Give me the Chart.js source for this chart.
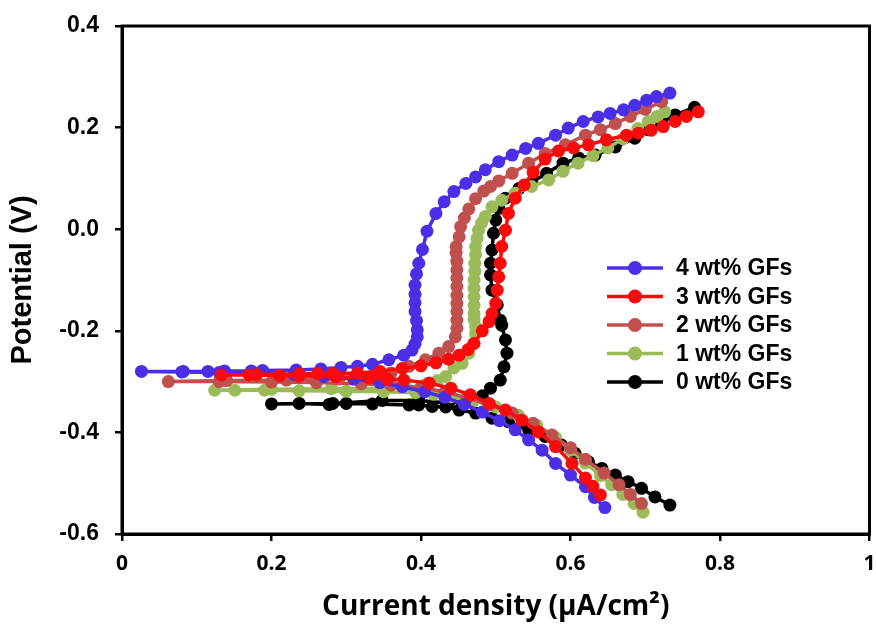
<!DOCTYPE html>
<html>
<head>
<meta charset="utf-8">
<script src="https://cdn.jsdelivr.net/npm/chart.js@4.4.0/dist/chart.umd.min.js"></script>
<style>
  html, body { margin: 0; padding: 0; background: #fff; }
  #wrap { width: 876px; height: 629px; }
</style>
</head>
<body>
<div id="wrap"><canvas id="grafica" width="876" height="629"></canvas></div>
<script>
// Nombres de las series (orden de la leyenda)
var seriesNames = ['4 wt% GFs', '3 wt% GFs', '2 wt% GFs', '1 wt% GFs', '0 wt% GFs'];
var seriesColors = ['#4B2FE6', '#FA0A0A', '#C0504D', '#9BBB59', '#000000'];

// Ticks de los ejes
var xTicks = [0, 0.2, 0.4, 0.6, 0.8, 1];
var yTicks = [-0.6, -0.4, -0.2, 0.0, 0.2, 0.4];

// 4 wt% GFs
var gf4X = [0.646, 0.632, 0.620, 0.600, 0.580, 0.562, 0.544, 0.526, 0.505, 0.482, 0.458, 0.432, 0.405, 0.375, 0.345, 0.310, 0.270, 0.230, 0.180, 0.130, 0.080, 0.026,
  0.082, 0.115, 0.137, 0.173, 0.188, 0.233, 0.266, 0.293, 0.315, 0.335, 0.357, 0.377, 0.388, 0.392, 0.395, 0.395, 0.394, 0.392, 0.392, 0.392, 0.392, 0.394, 0.397, 0.402, 0.408,
  0.420, 0.431, 0.444, 0.460, 0.473, 0.486, 0.504, 0.522, 0.540, 0.557, 0.580, 0.597, 0.617, 0.637, 0.653, 0.671, 0.686, 0.702, 0.715, 0.733];
var gf4Y = [-0.548, -0.528, -0.507, -0.484, -0.461, -0.435, -0.415, -0.395, -0.377, -0.360, -0.345, -0.331, -0.320, -0.310, -0.302, -0.295, -0.290, -0.286, -0.284, -0.282, -0.281, -0.280,
  -0.280, -0.280, -0.279, -0.279, -0.278, -0.277, -0.275, -0.272, -0.270, -0.266, -0.257, -0.248, -0.238, -0.226, -0.212, -0.198, -0.180, -0.162, -0.145, -0.128, -0.110, -0.088, -0.067, -0.040, -0.004,
  0.031, 0.054, 0.074, 0.090, 0.103, 0.117, 0.133, 0.146, 0.159, 0.169, 0.185, 0.199, 0.212, 0.221, 0.228, 0.235, 0.244, 0.254, 0.261, 0.268];

// 3 wt% GFs
var gf3X = [0.640, 0.630, 0.620, 0.602, 0.580, 0.557, 0.535, 0.513, 0.491, 0.466, 0.440, 0.411, 0.377, 0.355, 0.331, 0.286, 0.237, 0.211, 0.170, 0.133,
  0.180, 0.237, 0.262, 0.282, 0.315, 0.345, 0.375, 0.400, 0.420, 0.437, 0.451, 0.463, 0.471, 0.482, 0.491, 0.495, 0.500, 0.502, 0.504, 0.506, 0.508, 0.513,
  0.517, 0.526, 0.538, 0.550, 0.566, 0.584, 0.604, 0.624, 0.648, 0.675, 0.691, 0.708, 0.724, 0.740, 0.755, 0.771];
var gf3Y = [-0.523, -0.506, -0.490, -0.461, -0.428, -0.399, -0.376, -0.356, -0.343, -0.326, -0.313, -0.303, -0.297, -0.295, -0.293, -0.290, -0.289, -0.288, -0.287, -0.287,
  -0.286, -0.285, -0.284, -0.284, -0.283, -0.280, -0.274, -0.269, -0.263, -0.256, -0.248, -0.237, -0.225, -0.200, -0.182, -0.166, -0.146, -0.120, -0.094, -0.067, -0.034, -0.002,
  0.031, 0.061, 0.087, 0.112, 0.138, 0.154, 0.160, 0.166, 0.176, 0.185, 0.189, 0.195, 0.202, 0.212, 0.222, 0.231];

// 2 wt% GFs
var gf2X = [0.695, 0.680, 0.665, 0.645, 0.620, 0.600, 0.575, 0.550, 0.522, 0.492, 0.462, 0.432, 0.400, 0.360, 0.320, 0.260, 0.200, 0.130, 0.062,
  0.140, 0.220, 0.290, 0.330, 0.360, 0.384, 0.406, 0.424, 0.437, 0.446, 0.448, 0.448, 0.448, 0.448, 0.448, 0.448, 0.448, 0.448, 0.448, 0.447, 0.447,
  0.451, 0.453, 0.458, 0.464, 0.473, 0.484, 0.493, 0.504, 0.522, 0.544, 0.566, 0.593, 0.620, 0.640, 0.660, 0.680, 0.700, 0.722];
var gf2Y = [-0.540, -0.522, -0.503, -0.480, -0.453, -0.430, -0.405, -0.382, -0.362, -0.346, -0.332, -0.320, -0.312, -0.307, -0.304, -0.302, -0.301, -0.300, -0.300,
  -0.298, -0.297, -0.295, -0.291, -0.283, -0.270, -0.257, -0.244, -0.231, -0.212, -0.195, -0.179, -0.162, -0.146, -0.130, -0.113, -0.096, -0.080, -0.063, -0.047, -0.034,
  -0.015, 0.005, 0.022, 0.040, 0.060, 0.075, 0.084, 0.095, 0.110, 0.130, 0.149, 0.166, 0.185, 0.196, 0.208, 0.222, 0.236, 0.251];

// 1 wt% GFs
var gf1X = [0.697, 0.685, 0.670, 0.655, 0.640, 0.620, 0.600, 0.580, 0.555, 0.530, 0.500, 0.470, 0.440, 0.417, 0.393, 0.350, 0.300, 0.237, 0.191, 0.151, 0.124,
  0.200, 0.280, 0.347, 0.380, 0.405, 0.422, 0.433, 0.444, 0.455, 0.464, 0.470, 0.473, 0.473, 0.471, 0.471, 0.471, 0.471, 0.471, 0.471, 0.472, 0.472, 0.473, 0.473,
  0.475, 0.477, 0.481, 0.486, 0.495, 0.508, 0.526, 0.548, 0.571, 0.590, 0.610, 0.630, 0.650, 0.670, 0.690, 0.704, 0.716, 0.726];
var gf1Y = [-0.557, -0.540, -0.522, -0.503, -0.485, -0.460, -0.435, -0.410, -0.386, -0.366, -0.350, -0.338, -0.330, -0.325, -0.322, -0.320, -0.319, -0.318, -0.317, -0.317, -0.317,
  -0.315, -0.314, -0.313, -0.312, -0.306, -0.298, -0.290, -0.273, -0.264, -0.244, -0.225, -0.205, -0.192, -0.178, -0.166, -0.150, -0.133, -0.116, -0.100, -0.083, -0.067, -0.050, -0.034,
  -0.018, -0.002, 0.012, 0.025, 0.044, 0.057, 0.071, 0.084, 0.097, 0.114, 0.130, 0.145, 0.160, 0.178, 0.198, 0.212, 0.222, 0.231];

// 0 wt% GFs
var gf0X = [0.733, 0.713, 0.695, 0.677, 0.660, 0.642, 0.624, 0.606, 0.588, 0.566, 0.544, 0.517, 0.495, 0.473, 0.451, 0.433, 0.415, 0.397, 0.384, 0.335, 0.300, 0.277, 0.237, 0.200,
  0.282, 0.348, 0.397, 0.437, 0.462, 0.482, 0.493, 0.506, 0.511, 0.515, 0.513, 0.508, 0.506, 0.502, 0.495, 0.493, 0.493, 0.495, 0.497, 0.500, 0.504, 0.513,
  0.531, 0.548, 0.568, 0.590, 0.611, 0.633, 0.660, 0.686, 0.704, 0.722, 0.740, 0.766];
var gf0Y = [-0.543, -0.527, -0.510, -0.497, -0.484, -0.471, -0.458, -0.441, -0.425, -0.408, -0.395, -0.379, -0.372, -0.362, -0.356, -0.350, -0.349, -0.346, -0.346, -0.344, -0.343, -0.345, -0.343, -0.344,
  -0.343, -0.337, -0.337, -0.342, -0.338, -0.328, -0.313, -0.297, -0.271, -0.244, -0.218, -0.189, -0.179, -0.149, -0.120, -0.090, -0.067, -0.041, -0.008, 0.018, 0.041, 0.061,
  0.080, 0.092, 0.110, 0.130, 0.140, 0.146, 0.162, 0.179, 0.196, 0.210, 0.225, 0.240];

// Juntamos x e y en puntos
function juntar(xs, ys) {
  return xs.map(function(x, i) { return { x: x, y: ys[i] }; });
}

var seriesX = [gf4X, gf3X, gf2X, gf1X, gf0X];
var seriesY = [gf4Y, gf3Y, gf2Y, gf1Y, gf0Y];
// Orden de dibujo: el rojo arriba
var drawOrder = [1, 0, 2, 3, 4];

var datasets = seriesNames.map(function(name, i) {
  return {
    label: name,
    data: juntar(seriesX[i], seriesY[i]),
    showLine: true,
    borderColor: seriesColors[i],
    backgroundColor: seriesColors[i],
    pointBackgroundColor: seriesColors[i],
    pointBorderColor: seriesColors[i],
    borderWidth: 3.5,
    pointRadius: 6.5,
    pointBorderWidth: 0,
    tension: 0,
    order: drawOrder[i]
  };
});

// Marco alrededor del area de la grafica
var marco = {
  id: 'marco',
  afterDraw: function(chart) {
    var a = chart.chartArea;
    var c = chart.ctx;
    c.save();
    c.strokeStyle = '#000';
    c.lineWidth = 3;
    c.strokeRect(a.left, a.top, a.right - a.left, a.bottom - a.top);
    c.restore();
  }
};

// Leyenda dentro de la grafica
var leyenda = {
  id: 'leyenda',
  afterDraw: function(chart) {
    var c = chart.ctx;
    c.save();
    chart.data.datasets.forEach(function(ds, i) {
      var y = 268 + i * 28.5;
      c.strokeStyle = ds.borderColor;
      c.lineWidth = 3.5;
      c.beginPath();
      c.moveTo(607, y);
      c.lineTo(663, y);
      c.stroke();
      c.fillStyle = ds.borderColor;
      c.beginPath();
      c.arc(635, y, 7, 0, Math.PI * 2);
      c.fill();
      c.fillStyle = '#000';
      c.font = 'bold 23px "Liberation Sans", Arial, sans-serif';
      c.textBaseline = 'middle';
      c.textAlign = 'left';
      c.fillText(ds.label, 676, y + 1);
    });
    c.restore();
  }
};

var ctx = document.getElementById('grafica').getContext('2d');

var myChart = new Chart(ctx, {
  type: 'scatter',
  data: { datasets: datasets },
  plugins: [marco, leyenda],
  options: {
    responsive: false,
    animation: false,
    devicePixelRatio: 1,
    layout: { padding: { top: 26, right: 4, left: 0, bottom: 0 } },
    plugins: {
      legend: { display: false },
      tooltip: { enabled: false }
    },
    scales: {
      x: {
        type: 'linear',
        min: 0,
        max: 1,
        afterBuildTicks: function(s) { s.ticks = xTicks.map(function(v) { return { value: v }; }); },
        afterFit: function(s) { s.height = 95; s.paddingLeft = 0; s.paddingRight = 0; },
        grid: { display: true, drawOnChartArea: false, drawTicks: true, tickLength: 7, color: '#000', lineWidth: 2.5 },
        border: { display: true, color: '#000', width: 3 },
        ticks: {
          padding: 10,
          color: '#000',
          maxRotation: 0,
          font: { family: '"Open Sans", sans-serif', size: 21, weight: 'bold' },
          callback: function(v) {
            if (Math.abs(v) < 1e-9) return '0';
            if (Math.abs(v - 1) < 1e-9) return '1';
            return v.toFixed(1);
          }
        },
        title: {
          display: true,
          text: 'Current density (µA/cm²)',
          color: '#000',
          font: { family: '"Open Sans", sans-serif', size: 28, weight: 'bold' },
          padding: { top: 0, bottom: 5 }
        }
      },
      y: {
        type: 'linear',
        min: -0.6,
        max: 0.4,
        afterBuildTicks: function(s) { s.ticks = yTicks.map(function(v) { return { value: v }; }); },
        afterFit: function(s) { s.width = 122; s.paddingTop = 0; s.paddingBottom = 0; },
        grid: { display: true, drawOnChartArea: false, drawTicks: true, tickLength: 7, color: '#000', lineWidth: 2.5 },
        border: { display: true, color: '#000', width: 3 },
        ticks: {
          padding: 16,
          color: '#000',
          font: { family: '"Liberation Sans", Arial, sans-serif', size: 23, weight: 'bold' },
          callback: function(v) { return v.toFixed(1); }
        },
        title: {
          display: true,
          text: 'Potential (V)',
          color: '#000',
          font: { family: '"Liberation Sans", Arial, sans-serif', size: 29, weight: 'bold' },
          padding: { top: 6, bottom: 0 }
        }
      }
    }
  }
});
</script>
</body>
</html>
